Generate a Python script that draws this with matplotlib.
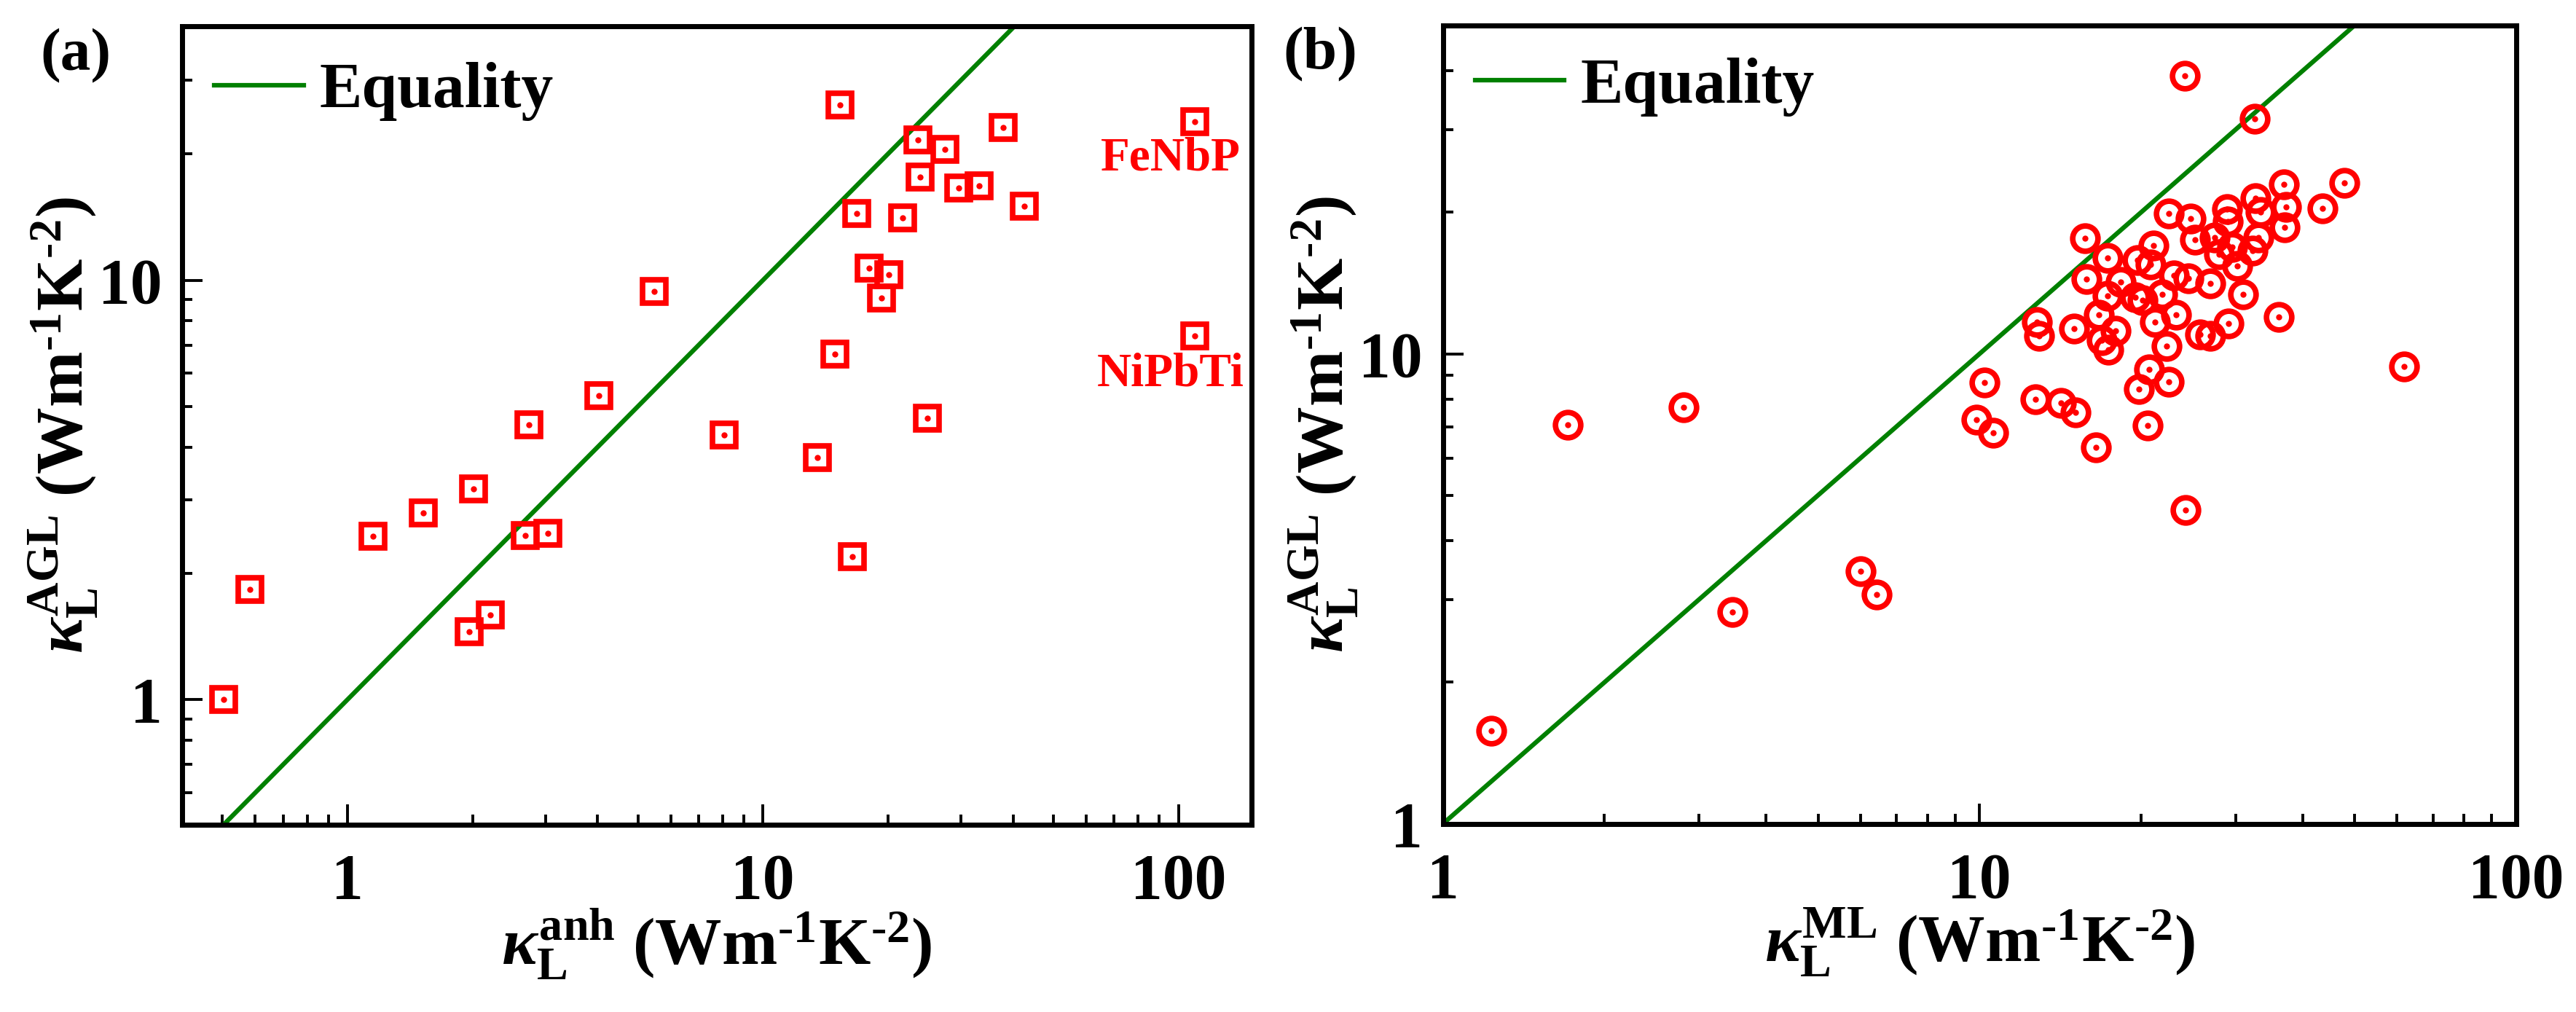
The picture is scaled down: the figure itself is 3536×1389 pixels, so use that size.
import matplotlib
matplotlib.use('Agg')
import matplotlib.pyplot as plt
from matplotlib.ticker import FuncFormatter, NullFormatter, LogLocator

plt.rcParams['font.family'] = ['Liberation Serif', 'DejaVu Serif']
plt.rcParams['font.weight'] = 'bold'
plt.rcParams['mathtext.fontset'] = 'custom'
plt.rcParams['mathtext.rm'] = 'Liberation Serif:bold'
plt.rcParams['mathtext.it'] = 'Liberation Serif:italic:bold'
plt.rcParams['mathtext.bf'] = 'Liberation Serif:bold'

# panel (a): kappa_anh vs kappa_AGL
anh_x = [0.504, 0.582, 1.154, 1.52, 2.01, 1.96, 2.21, 2.68, 3.04, 2.73,
         4.03, 5.47, 8.06, 13.5, 14.9, 15.3, 16.4, 16.8, 18.0, 20.1,
         19.3, 21.7, 23.6, 23.9, 27.4, 24.9, 29.6, 33.2, 37.8, 42.5,
         109.5, 109.5]
anh_y = [1.0, 1.83, 2.45, 2.79, 3.18, 1.45, 1.59, 2.46, 2.49, 4.52,
         5.30, 9.41, 4.27, 3.77, 6.66, 26.2, 2.19, 14.4, 10.7, 10.3,
         9.08, 14.1, 21.6, 17.6, 20.5, 4.69, 16.6, 16.8, 23.1, 15.0,
         23.9, 7.37]
names = ['FeNbP', 'NiPbTi']
name_x = [95.7, 95.7]
name_y = [19.5, 5.98]

# panel (b): kappa_ML vs kappa_AGL
ml_x = [1.23, 1.71, 2.81, 3.46, 6.01, 6.43, 9.86, 10.2, 10.6, 12.8,
        12.9, 12.7, 14.2, 15.1, 15.0, 15.7, 15.8, 16.5, 16.7, 17.3,
        17.3, 16.9, 17.4, 17.9, 18.3, 19.5, 19.7, 19.8, 20.1, 20.6,
        20.7, 20.8, 21.1, 21.2, 21.9, 22.3, 22.5, 22.5, 23.0, 23.2,
        24.1, 24.2, 24.7, 24.5, 25.2, 25.8, 26.9, 26.9, 27.4, 27.9,
        28.9, 29.1, 29.0, 29.6, 30.2, 31.0, 32.3, 32.6, 32.7, 33.1,
        33.4, 36.1, 36.9, 37.0, 37.2, 43.6, 47.9, 61.8]
ml_y = [1.58, 7.06, 7.69, 2.82, 3.45, 3.08, 7.24, 8.70, 6.78, 11.7,
        10.9, 8.0, 7.85, 7.5, 11.3, 17.6, 14.4, 6.32, 12.1, 16.0,
        13.3, 10.7, 10.2, 11.2, 14.2, 13.2, 15.8, 8.42, 13.0, 7.04,
        9.25, 15.5, 17.0, 11.7, 13.4, 10.4, 19.9, 8.72, 14.7, 12.1,
        39.0, 4.66, 19.4, 14.5, 17.5, 11.0, 10.9, 14.1, 17.7, 16.3,
        20.3, 11.6, 19.1, 16.9, 15.4, 13.4, 16.6, 31.6, 21.4, 17.7,
        20.0, 12.0, 22.9, 18.6, 20.5, 20.4, 23.1, 9.39]

eq_range = [0.3, 200]

unit = r' (Wm$^{\text{-1}}$K$^{\text{-2}}$)'


def style_axes(ax, xlim, ylim):
    ax.set_xscale('log')
    ax.set_yscale('log')
    ax.set_xlim(xlim)
    ax.set_ylim(ylim)
    for sp in ax.spines.values():
        sp.set_linewidth(5)
    ax.xaxis.set_minor_locator(LogLocator(base=10, subs=range(2, 10)))
    ax.yaxis.set_minor_locator(LogLocator(base=10, subs=range(2, 10)))
    fmt = FuncFormatter(lambda v, p: '%g' % v)
    ax.xaxis.set_major_formatter(fmt)
    ax.yaxis.set_major_formatter(fmt)
    ax.xaxis.set_minor_formatter(NullFormatter())
    ax.yaxis.set_minor_formatter(NullFormatter())
    ax.tick_params(which='both', direction='in', top=False, right=False,
                   width=2.8, labelsize=63)
    ax.tick_params(which='major', length=20)
    ax.tick_params(which='minor', length=10)
    ax.tick_params(axis='x', pad=28)
    ax.tick_params(axis='y', pad=20)
    for lb in ax.get_xticklabels() + ax.get_yticklabels():
        lb.set_fontweight('bold')


fig = plt.figure(figsize=(35.37, 13.89), dpi=100)
ax1 = fig.add_axes([0.0707, 0.185, 0.415, 0.789])
ax2 = fig.add_axes([0.560, 0.186, 0.4165, 0.789])

# (a)
line1, = ax1.plot(eq_range, eq_range, color='#008000', lw=4.5, label='Equality', zorder=2)
ax1.plot(anh_x, anh_y, ls='none', marker='s', ms=23, mfc='none', mec='red', mew=5.5, zorder=3)
ax1.plot(anh_x, anh_y, ls='none', marker='o', ms=6, mfc='red', mec='none', zorder=4)
for n, x, y in zip(names, name_x, name_y):
    ax1.text(x, y, n, color='red', fontsize=47, fontweight='bold', ha='center', va='center')
style_axes(ax1, (0.4, 150), (0.503, 40.3))
ax1.set_xlabel(r'$\kappa_\mathrm{L}^\mathrm{anh}$' + unit, fontsize=66, fontweight='bold')
ax1.set_ylabel(r'$\kappa_\mathrm{L}^\mathrm{AGL}$' + unit, fontsize=66, fontweight='bold')
ax1.xaxis.set_label_coords(0.5, -0.103)
ax1.yaxis.set_label_coords(-0.077, 0.5)
ax1.legend(handles=[line1], loc='upper left', bbox_to_anchor=(0.03, 0.955), frameon=False,
           fontsize=63, handlelength=1.4, handletextpad=0.25, borderpad=0, borderaxespad=0)

# (b)
line2, = ax2.plot(eq_range, eq_range, color='#008000', lw=4.5, label='Equality', zorder=2)
ax2.plot(ml_x, ml_y, ls='none', marker='o', ms=25, mfc='none', mec='red', mew=5.5, zorder=3)
ax2.plot(ml_x, ml_y, ls='none', marker='o', ms=6, mfc='red', mec='none', zorder=4)
style_axes(ax2, (1, 100), (1, 50))
ax2.set_xlabel(r'$\kappa_\mathrm{L}^\mathrm{ML}$' + unit, fontsize=66, fontweight='bold')
ax2.set_ylabel(r'$\kappa_\mathrm{L}^\mathrm{AGL}$' + unit, fontsize=66, fontweight='bold')
ax2.xaxis.set_label_coords(0.5, -0.103)
ax2.yaxis.set_label_coords(-0.077, 0.5)
ax2.legend(handles=[line2], loc='upper left', bbox_to_anchor=(0.03, 0.96), frameon=False,
           fontsize=63, handlelength=1.4, handletextpad=0.25, borderpad=0, borderaxespad=0)

fig.text(55 / 3537, 1 - 77 / 1389, '(a)', fontsize=60, fontweight='bold', ha='left', va='center')
fig.text(1761 / 3537, 1 - 75 / 1389, '(b)', fontsize=60, fontweight='bold', ha='left', va='center')

fig.savefig('out.png', dpi=100)
